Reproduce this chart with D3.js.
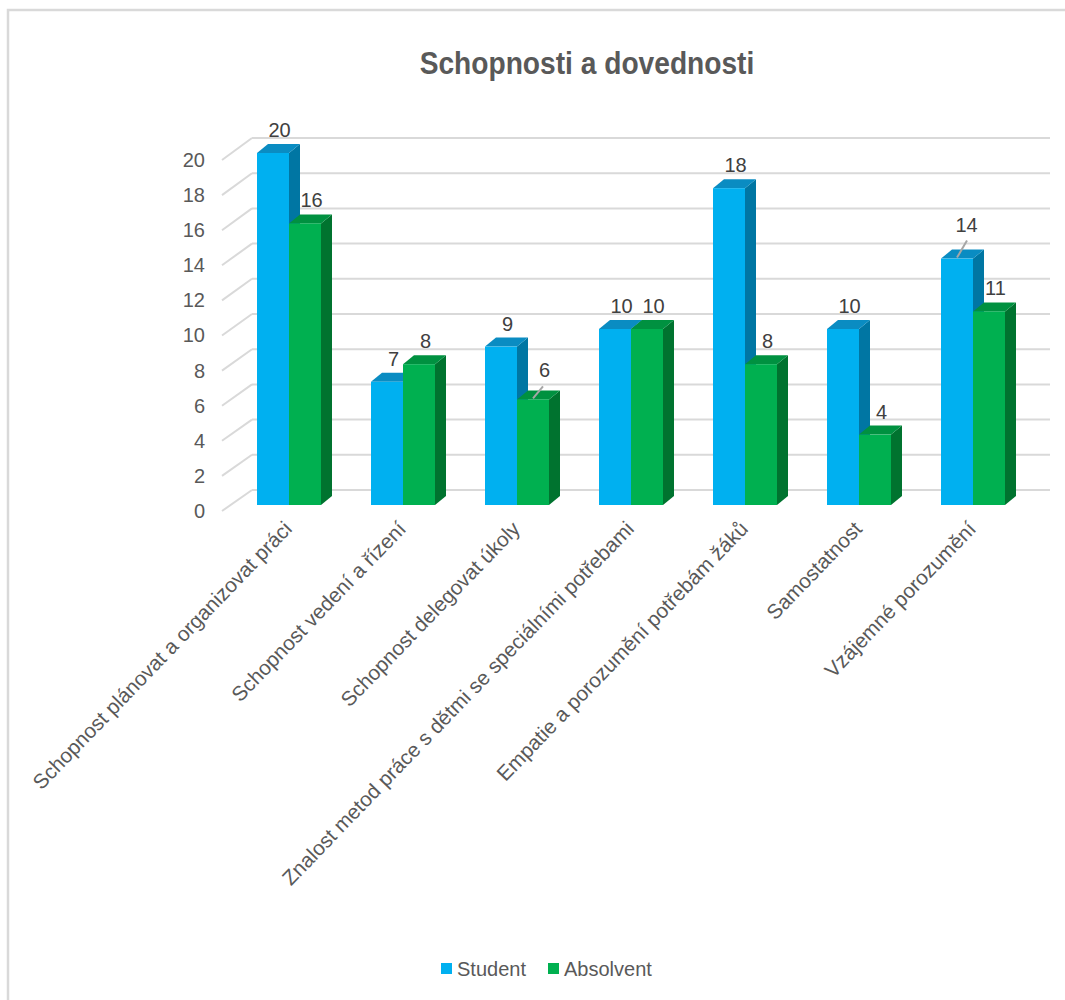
<!DOCTYPE html>
<html><head><meta charset="utf-8">
<script src="https://cdn.jsdelivr.net/npm/d3@7"></script>
<style>body{margin:0;background:#fff}svg{display:block}</style>
</head><body>
<script>
const categories = [
  "Schopnost plánovat a organizovat práci",
  "Schopnost vedení a řízení",
  "Schopnost delegovat úkoly",
  "Znalost metod práce s dětmi se speciálními potřebami",
  "Empatie a porozumění potřebám žáků",
  "Samostatnost",
  "Vzájemné porozumění"
];
const seriesNames = ["Student", "Absolvent"];
const student = [20, 7, 9, 10, 18, 10, 14];
const absolvent = [16, 8, 6, 10, 8, 4, 11];
const yTicks = [0, 2, 4, 6, 8, 10, 12, 14, 16, 18, 20];
const title = "Schopnosti a dovednosti";

const W = 1065, H = 1000;
const colors = {
  Student: {front: "#00B0F0", side: "#0076A3", top: "#0A8CC2"},
  Absolvent: {front: "#00B050", side: "#00732F", top: "#009140"}
};
const textGray = "#595959";
const font = "'Liberation Sans', Arial, sans-serif";

const svg = d3.select("body").append("svg").attr("width", W).attr("height", H);

// frame
svg.append("rect").attr("x", 8).attr("y", 10).attr("width", 1200).attr("height", 1200)
  .attr("fill", "none").attr("stroke", "#d9d9d9").attr("stroke-width", 2.5);

// title (condensed look)
svg.append("text").attr("transform", "translate(587,74) scale(0.88,1)").attr("text-anchor", "middle")
  .attr("font-family", font)
  .attr("font-weight", "bold").attr("font-size", 32).attr("fill", textGray).text(title);

// scales
const yFront = d3.scaleLinear().domain([0, 20]).range([505, 153]);
const yAxisScale = d3.scaleLinear().domain([0, 20]).range([511, 160]);
const yBack = d3.scaleLinear().domain([0, 20]).range([490, 138]);
const x = d3.scaleBand().domain(categories).range([232, 1030]);
const xs = d3.scaleBand().domain(seriesNames).range([25, 89]);
const depth = {dx: 11, dy: -9};
const wallLeft = 252, wallRight = 1050, sideFrontX = 222;

// gridlines (back wall + side wall)
const grid = svg.append("g").attr("stroke", "#d9d9d9").attr("stroke-width", 2).attr("fill", "none");
yTicks.forEach(t => {
  grid.append("line").attr("x1", wallLeft).attr("x2", wallRight)
    .attr("y1", yBack(t)).attr("y2", yBack(t));
  grid.append("line").attr("x1", sideFrontX).attr("y1", yAxisScale(t))
    .attr("x2", wallLeft).attr("y2", yBack(t));
});

// y axis labels
const yAxis = d3.axisLeft(yAxisScale).tickValues(yTicks).tickSize(0).tickPadding(0);
const ya = svg.append("g").attr("transform", "translate(205,0)").call(yAxis);
ya.select(".domain").remove();
ya.selectAll("text").attr("font-family", font).attr("font-size", 20).attr("fill", textGray);

// bars
const data = [];
categories.forEach((c, i) => {
  data.push({cat: c, series: "Student", value: student[i]});
  data.push({cat: c, series: "Absolvent", value: absolvent[i]});
});
const bars = svg.append("g");
data.forEach(d => {
  const x0 = x(d.cat) + xs(d.series), w = xs.bandwidth();
  const yT = yFront(d.value), yB = yFront(0);
  const col = colors[d.series];
  const g = bars.append("g");
  g.append("polygon").attr("fill", col.side).attr("points", [
    [x0 + w, yT], [x0 + w + depth.dx, yT + depth.dy], [x0 + w + depth.dx, yB + depth.dy], [x0 + w, yB]
  ].map(p => p.join(",")).join(" "));
  g.append("polygon").attr("fill", col.top).attr("points", [
    [x0, yT], [x0 + depth.dx, yT + depth.dy], [x0 + w + depth.dx, yT + depth.dy], [x0 + w, yT]
  ].map(p => p.join(",")).join(" "));
  g.append("rect").attr("x", x0).attr("y", yT).attr("width", w).attr("height", yB - yT).attr("fill", col.front);
});

// data labels (two labels nudged with leader lines, as in the original)
const nudged = {
  "Absolvent|Schopnost delegovat úkoly": {up: 6, right: 5},
  "Student|Vzájemné porozumění": {up: 11, right: 3}
};
const labels = svg.append("g");
data.forEach(d => {
  const x0 = x(d.cat) + xs(d.series), w = xs.bandwidth();
  const n = nudged[d.series + "|" + d.cat];
  const cx = x0 + w / 2 + depth.dx / 2 + 1 + (n ? n.right : 0);
  const yT = yFront(d.value) + depth.dy;
  const by = yT - 7 - (n ? n.up : 0);
  if (n) {
    labels.append("line").attr("stroke", "#a6a6a6").attr("stroke-width", 2)
      .attr("x1", x0 + w / 2).attr("y1", yFront(d.value) - 1)
      .attr("x2", x0 + w / 2 + 10).attr("y2", by + 9);
  }
  labels.append("text").attr("x", cx).attr("y", by).attr("text-anchor", "middle")
    .attr("font-family", font).attr("font-size", 20).attr("fill", "#404040").text(d.value);
});

// category labels
const xl = svg.append("g");
categories.forEach(c => {
  const cx = x(c) + x.bandwidth() / 2 - 1;
  xl.append("text").attr("transform", `translate(${cx},${525}) rotate(-46)`)
    .attr("text-anchor", "end").attr("dy", "0.35em")
    .attr("font-family", font).attr("font-size", 20.7).attr("fill", textGray).text(c);
});

// legend
const lg = svg.append("g").attr("font-family", font).attr("font-size", 20).attr("fill", textGray);
const legendX = [441, 548];
seriesNames.forEach((s, i) => {
  lg.append("rect").attr("x", legendX[i]).attr("y", 963).attr("width", 11).attr("height", 11)
    .attr("fill", colors[s].front);
  lg.append("text").attr("x", legendX[i] + 16).attr("y", 976).text(s);
});
</script>
</body></html>
